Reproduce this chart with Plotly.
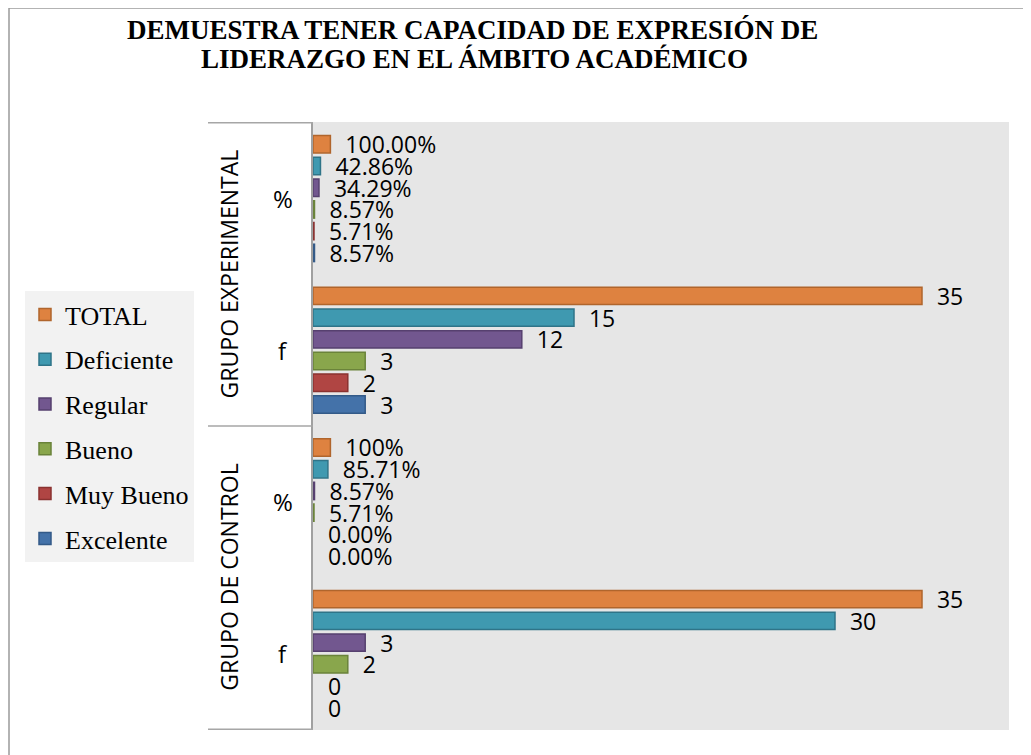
import plotly.graph_objects as go

# ---- data ----
categories = ["EXP_%", "EXP_f", "CTL_%", "CTL_f"]
inner_labels = ["%", "f", "%", "f"]
group_labels = ["GRUPO EXPERIMENTAL", "GRUPO DE CONTROL"]
title_lines = ["DEMUESTRA TENER CAPACIDAD DE EXPRESIÓN DE", "LIDERAZGO EN EL ÁMBITO ACADÉMICO"]

series_names = ["TOTAL", "Deficiente", "Regular", "Bueno", "Muy Bueno", "Excelente"]
total = [1.0, 35, 1.0, 35]
deficiente = [0.4286, 15, 0.8571, 30]
regular = [0.3429, 12, 0.0857, 3]
bueno = [0.0857, 3, 0.0571, 2]
muy_bueno = [0.0571, 2, 0.0, 0]
excelente = [0.0857, 3, 0.0, 0]

labels_total = ["100.00%", "35", "100%", "35"]
labels_deficiente = ["42.86%", "15", "85.71%", "30"]
labels_regular = ["34.29%", "12", "8.57%", "3"]
labels_bueno = ["8.57%", "3", "5.71%", "2"]
labels_muy_bueno = ["5.71%", "2", "0.00%", "0"]
labels_excelente = ["8.57%", "3", "0.00%", "0"]

values = [total, deficiente, regular, bueno, muy_bueno, excelente]
labels = [labels_total, labels_deficiente, labels_regular, labels_bueno,
          labels_muy_bueno, labels_excelente]

fill_colors = ["#DE8240", "#3F99B0", "#72578F", "#89A64C", "#B04543", "#4472A9"]
line_colors = ["#B0652C", "#2F7488", "#56406F", "#6A833A", "#8A3230", "#335A88"]

# ---- geometry (screen pixels; page body has an 8px margin) ----
OFF = 8
W, H = 1031 - OFF, 755 - OFF
PL, PR, PT, PB = 313, 1009, 122, 730          # plot area in screen pixels
L, R, T, B = PL - OFF, W - (PR - OFF), PT - OFF, H - (PB - OFF)
pw, ph = W - L - R, H - T - B


def px_x(sx):
    return (sx - OFF - L) / pw


def px_y(sy):
    return (H - B - (sy - OFF)) / ph


fig = go.Figure()
for name, vals, labs, fc, lc in zip(series_names, values, labels, fill_colors, line_colors):
    fig.add_trace(go.Bar(
        y=categories, x=vals, orientation="h", name=name,
        legendgroup=name,
        marker=dict(color=fc, line=dict(color=lc, width=[0 if v == 0 else 1.5 for v in vals])),
        text=labs, texttemplate="\u00a0\u00a0%{text}",
        textposition="outside", constraintext="none", cliponaxis=False,
        textfont=dict(family="Open Sans", size=23, color="#000000"),
        hoverinfo="x+name",
    ))

shapes = []
# outer chart border
shapes.append(dict(type="rect", xref="paper", yref="paper",
                   x0=px_x(9), x1=px_x(1060), y0=px_y(790), y1=px_y(8),
                   line=dict(color="#9A9A9A", width=1.5), fillcolor="rgba(0,0,0,0)",
                   layer="above"))
# category dividers
for yv in [-0.5, 1.5, 3.5]:
    shapes.append(dict(type="line", xref="paper", yref="y",
                       x0=px_x(208), x1=0, y0=yv, y1=yv,
                       line=dict(color="#A6A6A6", width=1.5)))

annotations = []
for i, lab in enumerate(inner_labels):
    annotations.append(dict(xref="paper", yref="y", x=px_x(283), y=i, text=lab,
                            showarrow=False, xanchor="center", yanchor="middle",
                            font=dict(family="Open Sans", size=24, color="#000000")))
for j, g in enumerate(group_labels):
    annotations.append(dict(xref="paper", yref="y", x=px_x(229), y=2 * j + 0.5, text=g,
                            showarrow=False, textangle=-90, xanchor="center", yanchor="middle",
                            font=dict(family="Open Sans", size=23, color="#000000")))
for k, (line, cx, cy) in enumerate(zip(title_lines, [472, 474], [30, 59])):
    annotations.append(dict(xref="paper", yref="paper", x=px_x(cx), y=px_y(cy),
                            text="<b>" + line + "</b>", showarrow=False,
                            xanchor="center", yanchor="middle",
                            font=dict(family="Liberation Serif", size=27, color="#000000")))

fig.update_layout(
    width=W, height=H,
    margin=dict(l=L, r=R, t=T, b=B, pad=0),
    paper_bgcolor="#FFFFFF",
    plot_bgcolor="#E6E6E6",
    barmode="group",
    bargap=0.14, bargroupgap=0.2,
    xaxis=dict(range=[0, 40], visible=False, showgrid=False, zeroline=False, fixedrange=True),
    yaxis=dict(type="category", categoryorder="array", categoryarray=categories,
               autorange="reversed", showticklabels=False, ticks="",
               showline=True, linecolor="#A0A0A0", linewidth=1.5, showgrid=False,
               zeroline=False, fixedrange=True),
    legend=dict(
        x=px_x(25), xanchor="left", y=px_y(291), yanchor="top",
        bgcolor="#F2F2F2", borderwidth=0,
        font=dict(family="Liberation Serif", size=26, color="#000000"),
        tracegroupgap=8, traceorder="grouped",
        itemclick=False, itemdoubleclick=False,
    ),
    shapes=shapes,
    annotations=annotations,
    showlegend=True,
)

fig.write_html("out.html")
